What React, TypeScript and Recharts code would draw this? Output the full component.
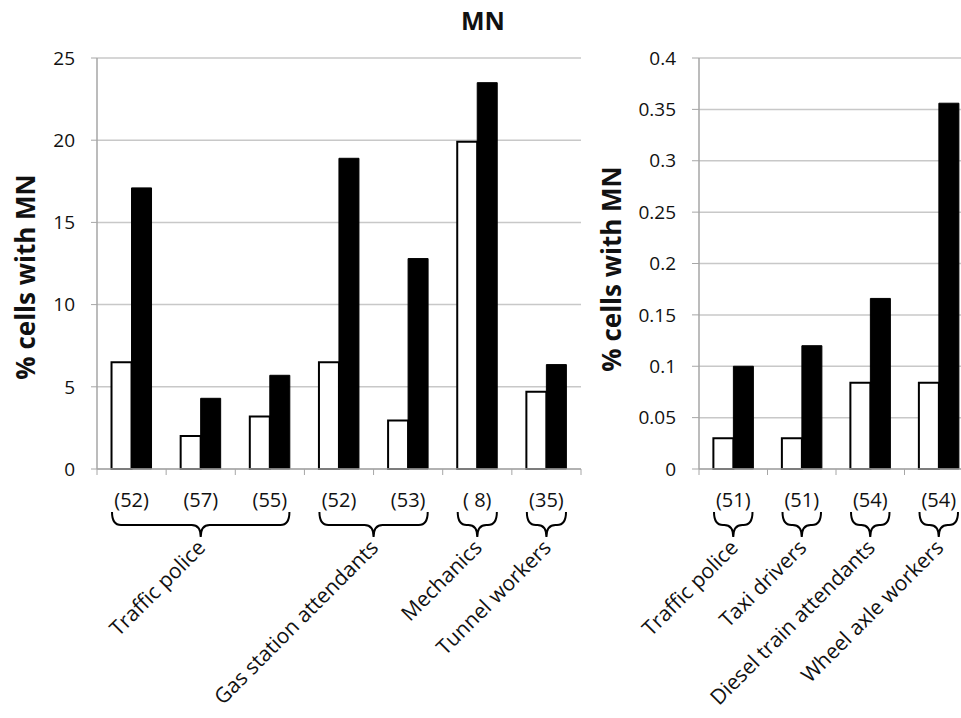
import { BarChart, Bar, XAxis, YAxis, CartesianGrid } from 'recharts';

// left panel: cell counts per sampling site, grouped by occupation
const leftSamples = ['(52)', '(57)', '(55)', '(52)', '(53)', '( 8)', '(35)'];
const leftWhite = [6.5, 2.0, 3.2, 6.5, 2.95, 19.9, 4.7];
const leftBlack = [17.1, 4.3, 5.7, 18.9, 12.8, 23.5, 6.35];
const leftGroupNames = ['Traffic police', 'Gas station attendants', 'Mechanics', 'Tunnel workers'];
const leftGroupSizes = [3, 2, 1, 1];
const leftTicks = [0, 5, 10, 15, 20, 25];

// right panel
const rightSamples = ['(51)', '(51)', '(54)', '(54)'];
const rightWhite = [0.03, 0.03, 0.084, 0.084];
const rightBlack = [0.1, 0.12, 0.166, 0.356];
const rightGroupNames = ['Traffic police', 'Taxi drivers', 'Diesel train attendants', 'Wheel axle workers'];
const rightGroupSizes = [1, 1, 1, 1];
const rightTicks = [0, 0.05, 0.1, 0.15, 0.2, 0.25, 0.3, 0.35, 0.4];

const FONT = '"Open Sans", sans-serif';
const PLOT_BOTTOM = 469;
const AXIS_GRAY = '#a6a6a6';
const GRID_GRAY = '#c8c8c8';
const TEXT = '#111';

function buildRows(samples: string[], white: number[], black: number[]) {
  return samples.map((n, i) => ({ id: i, n, white: white[i], black: black[i] }));
}

function groupStarts(sizes: number[]) {
  const starts: number[] = [];
  let acc = 0;
  sizes.forEach((s) => {
    starts.push(acc);
    acc += s;
  });
  return starts;
}

function Brace({ x1, x2 }: { x1: number; x2: number }) {
  const y0 = 512;
  const y1 = 525;
  const y2 = 537;
  const cx = (x1 + x2) / 2;
  const r = 9;
  const d =
    `M ${x1} ${y0} Q ${x1} ${y1} ${x1 + r} ${y1} L ${cx - r} ${y1} Q ${cx} ${y1} ${cx} ${y2} ` +
    `Q ${cx} ${y1} ${cx + r} ${y1} L ${x2 - r} ${y1} Q ${x2} ${y1} ${x2} ${y0}`;
  return <path d={d} fill="none" stroke="#000" strokeWidth={2} />;
}

function makeTick(samples: string[], names: string[], sizes: number[], bandWidth: number) {
  const starts = groupStarts(sizes);
  const n = samples.length;
  return (props: any) => {
    const { x, payload } = props;
    const i = payload.index;
    const g = starts.indexOf(i);
    const left = x - bandWidth / 2;
    let group = null;
    if (g >= 0) {
      const bx1 = left + 15;
      const bx2 = left + sizes[g] * bandWidth - 15;
      const cx = (bx1 + bx2) / 2;
      const ax = cx + 6;
      const ay = 549;
      group = (
        <g>
          <Brace x1={bx1} x2={bx2} />
          <text
            x={ax}
            y={ay}
            transform={`rotate(-45 ${ax} ${ay})`}
            textAnchor="end"
            fontFamily={FONT}
            fontSize={21}
            fill={TEXT}
          >
            {names[g]}
          </text>
        </g>
      );
    }
    return (
      <g>
        <line x1={left} x2={left} y1={PLOT_BOTTOM} y2={PLOT_BOTTOM + 6} stroke={AXIS_GRAY} />
        {i === n - 1 && (
          <line
            x1={left + bandWidth}
            x2={left + bandWidth}
            y1={PLOT_BOTTOM}
            y2={PLOT_BOTTOM + 6}
            stroke={AXIS_GRAY}
          />
        )}
        <text x={x} y={507} textAnchor="middle" fontFamily={FONT} fontSize={20} fill={TEXT}>
          {samples[i]}
        </text>
        {group}
      </g>
    );
  };
}

function Panel({
  rows,
  ticks,
  max,
  width,
  yAxisWidth,
  rightMargin,
  tickSize,
  fontSize,
  tick,
}: {
  rows: any[];
  ticks: number[];
  max: number;
  width: number;
  yAxisWidth: number;
  rightMargin: number;
  tickSize: number;
  fontSize: number;
  tick: (p: any) => any;
}) {
  return (
    <BarChart
      width={width}
      height={718}
      data={rows}
      margin={{ top: 58, right: rightMargin, bottom: 9, left: 0 }}
      barCategoryGap="21%"
      barGap={0}
    >
      <CartesianGrid vertical={false} stroke={GRID_GRAY} strokeWidth={1.5} />
      <XAxis
        dataKey="id"
        height={240}
        interval={0}
        tickLine={false}
        axisLine={{ stroke: AXIS_GRAY, strokeWidth: 1.5 }}
        tick={tick}
      />
      <YAxis
        width={yAxisWidth}
        domain={[0, max]}
        ticks={ticks}
        interval={0}
        tickSize={tickSize}
        tickMargin={16}
        axisLine={{ stroke: AXIS_GRAY, strokeWidth: 1.5 }}
        tickLine={{ stroke: AXIS_GRAY }}
        tick={{ fill: TEXT, fontSize, fontFamily: FONT }}
      />
      <Bar dataKey="white" fill="#fff" stroke="#000" strokeWidth={2} isAnimationActive={false} />
      <Bar dataKey="black" fill="#000" stroke="#000" strokeWidth={1} isAnimationActive={false} />
    </BarChart>
  );
}

export default function App() {
  const leftRows = buildRows(leftSamples, leftWhite, leftBlack);
  const rightRows = buildRows(rightSamples, rightWhite, rightBlack);
  const leftBand = (600 - 19 - 97) / leftSamples.length;
  const rightBand = (380 - 7 - 99) / rightSamples.length;

  return (
    <div
      style={{
        position: 'fixed',
        top: 0,
        left: 0,
        width: 961,
        height: 718,
        overflow: 'hidden',
        background: '#fff',
      }}
    >
      <div style={{ position: 'absolute', left: 0, top: 0 }}>
        <Panel
          rows={leftRows}
          ticks={leftTicks}
          max={25}
          width={600}
          yAxisWidth={97}
          rightMargin={19}
          tickSize={6}
          fontSize={19}
          tick={makeTick(leftSamples, leftGroupNames, leftGroupSizes, leftBand)}
        />
      </div>
      <div style={{ position: 'absolute', left: 600, top: 0 }}>
        <Panel
          rows={rightRows}
          ticks={rightTicks}
          max={0.4}
          width={380}
          yAxisWidth={99}
          rightMargin={7}
          tickSize={7}
          fontSize={19}
          tick={makeTick(rightSamples, rightGroupNames, rightGroupSizes, rightBand)}
        />
      </div>
      <svg
        width={961}
        height={718}
        style={{ position: 'absolute', left: 0, top: 0, pointerEvents: 'none' }}
      >
        <text x={483} y={30} textAnchor="middle" fontFamily={FONT} fontWeight="bold" fontSize={25} fill={TEXT}>
          MN
        </text>
        <text
          x={35}
          y={277}
          transform="rotate(-90 35 277)"
          textAnchor="middle"
          fontFamily={FONT}
          fontWeight="bold"
          fontSize={26}
          fill={TEXT}
        >
          % cells with MN
        </text>
        <text
          x={621}
          y={269}
          transform="rotate(-90 621 269)"
          textAnchor="middle"
          fontFamily={FONT}
          fontWeight="bold"
          fontSize={26}
          fill={TEXT}
        >
          % cells with MN
        </text>
      </svg>
    </div>
  );
}
